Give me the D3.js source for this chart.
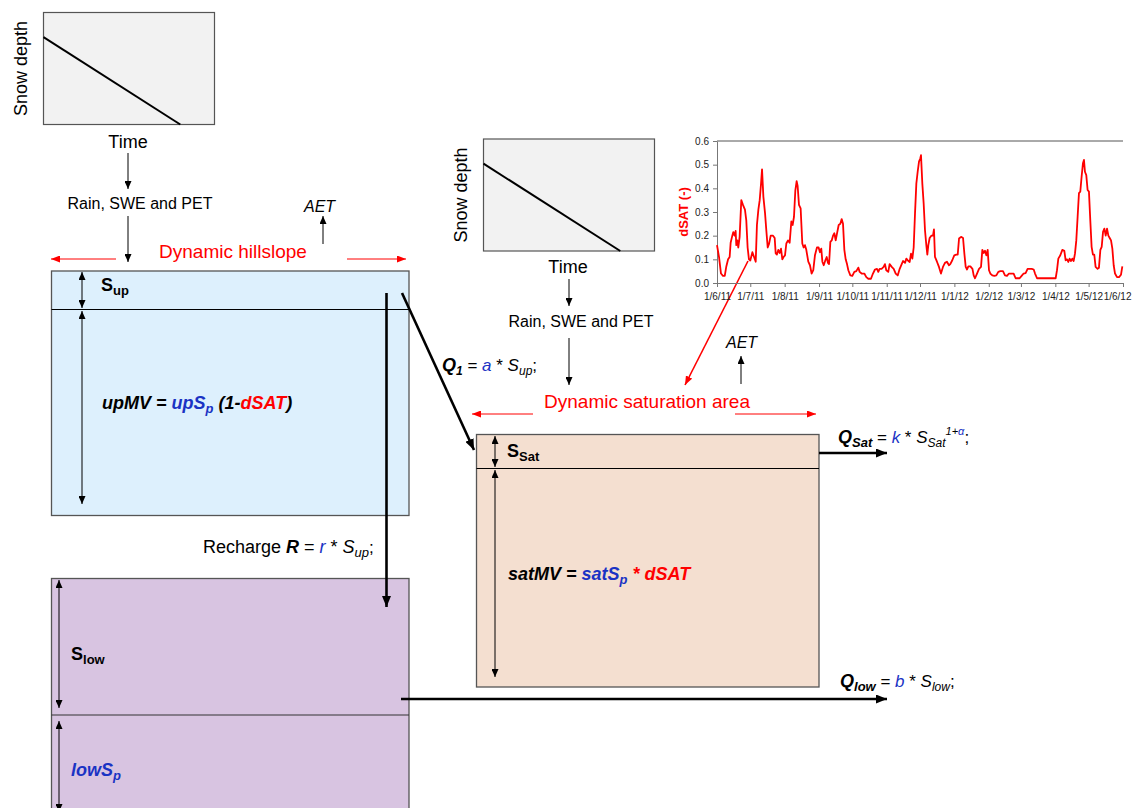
<!DOCTYPE html>
<html><head><meta charset="utf-8">
<script src="https://cdn.jsdelivr.net/npm/d3@7"></script>
<style>
html,body{margin:0;padding:0;background:#fff;}
svg text{font-family:"Liberation Sans",Arial,sans-serif;white-space:pre;}
</style></head>
<body>
<svg id="c" width="1132" height="808"></svg>
<script>
// ---- data ----
const monthTicks = ["1/6/11","1/7/11","1/8/11","1/9/11","1/10/11","1/11/11","1/12/11","1/1/12","1/2/12","1/3/12","1/4/12","1/5/12","1/6/12"];
const yTicks = [0, 0.1, 0.2, 0.3, 0.4, 0.5, 0.6];
// days since 1/6/2011
const days = [0,1.8,3.6,5.4,7,8.4,10,11.4,12.3,13.8,14.7,15.9,16.8,17.4,18.3,19.2,20.4,21.9,23.4,25.2,26.4,27.6,28.8,30,31.9,33.4,34.9,36,37.3,38.5,39.7,40.6,41.8,43.3,44.5,45.7,46.9,48.4,50.5,52,52.9,54,55.3,56.5,57.7,58.9,60,61.3,62.5,64,65.5,67,68.2,69.4,70.6,71.8,72.7,73.9,75.4,76.9,78.1,79.3,80.5,82.3,83.8,85.3,86.8,88.3,90.1,91.6,92.8,94,95,96.2,97.7,98.9,100,101,102.2,103.4,104.6,105.8,107,108.2,109.7,111.2,112.4,113.6,114.8,116,117.2,118.4,120.2,122,123.8,125.6,127.4,128.6,130.4,132.8,134.6,136.4,138.8,140.6,142.4,144.2,145.4,146.6,148.4,150.2,151.4,152.6,154.4,155.6,157.5,159.3,161.1,162.9,164.7,166.5,167.7,169.5,170.7,172.5,173.7,174.9,176.1,177.3,178.5,179.7,180.9,182.1,183.3,183.9,185.1,186.3,187.5,188.7,189.6,190.5,191.7,193.2,194.7,195.6,196.5,198.3,200.1,201.9,203.7,205.5,207.3,209.1,210.3,212.1,213.9,215.7,217,218.2,220,221.8,223,224.2,225.4,226.6,228.4,230.3,231.4,232.6,234.4,236.2,238,239.2,240.4,241.6,242.8,244,245.2,246.4,248.2,250,251.8,253.6,255.4,257.8,259.6,261.4,263.2,265.6,267.4,269.2,272.8,274.6,276.4,278.2,280,283.7,285.5,286.7,288.5,305.3,306.5,307.7,309.5,311.3,313.1,314.3,315.5,316.7,317.9,319.1,320.3,321.5,322.7,323.9,325.1,326.3,327.5,328.7,329.9,330.8,331.7,332.9,334.1,335.3,336.5,337.7,338.9,340.1,341.3,343.1,344.3,345.6,346.8,348,349.2,350.4,351.6,352.8,354,355.2,356.4,357.6,358.8,360.6,362.4,364.2,365.4];
const dsat = [0.16,0.11,0.04,0.03,0.03,0.07,0.10,0.11,0.17,0.20,0.215,0.20,0.22,0.16,0.18,0.15,0.195,0.35,0.33,0.31,0.265,0.15,0.10,0.095,0.13,0.11,0.09,0.245,0.31,0.35,0.42,0.48,0.365,0.295,0.22,0.15,0.165,0.20,0.20,0.19,0.125,0.12,0.14,0.127,0.145,0.10,0.11,0.117,0.167,0.18,0.17,0.26,0.245,0.28,0.39,0.43,0.41,0.33,0.315,0.167,0.15,0.16,0.14,0.09,0.075,0.04,0.054,0.117,0.15,0.15,0.13,0.145,0.09,0.075,0.096,0.11,0.085,0.08,0.174,0.18,0.20,0.21,0.18,0.21,0.245,0.25,0.27,0.25,0.14,0.10,0.08,0.054,0.032,0.03,0.047,0.05,0.065,0.047,0.04,0.04,0.025,0.018,0.018,0.04,0.057,0.06,0.047,0.06,0.06,0.068,0.08,0.054,0.047,0.08,0.068,0.06,0.04,0.032,0.06,0.08,0.093,0.085,0.103,0.093,0.089,0.124,0.103,0.15,0.294,0.42,0.47,0.513,0.527,0.54,0.42,0.336,0.223,0.16,0.12,0.16,0.19,0.20,0.20,0.226,0.11,0.09,0.068,0.04,0.068,0.085,0.09,0.075,0.08,0.096,0.117,0.12,0.12,0.188,0.195,0.19,0.124,0.068,0.057,0.07,0.07,0.06,0.032,0.02,0.04,0.06,0.068,0.14,0.127,0.136,0.117,0.14,0.054,0.04,0.032,0.03,0.032,0.047,0.05,0.05,0.032,0.03,0.04,0.04,0.04,0.02,0.02,0.03,0.04,0.042,0.06,0.06,0.057,0.04,0.02,0.02,0.054,0.103,0.117,0.14,0.136,0.096,0.10,0.089,0.103,0.093,0.103,0.093,0.124,0.18,0.28,0.38,0.386,0.45,0.506,0.52,0.47,0.456,0.393,0.386,0.266,0.153,0.12,0.12,0.068,0.06,0.064,0.14,0.153,0.216,0.23,0.20,0.23,0.20,0.19,0.18,0.145,0.075,0.04,0.025,0.025,0.035,0.07];
// schematic snow-depth lines
const snowTime = [0, 0.8];
const snowDepth = [0.78, 0];

const BLUE = "#1a33c4", RED = "#ff0000";
const svg = d3.select("#c");

// ---- markers ----
const defs = svg.append("defs");
function marker(id, len, wid, color) {
  defs.append("marker").attr("id", id).attr("viewBox", `0 0 ${len} ${wid}`)
    .attr("refX", len).attr("refY", wid/2).attr("markerWidth", len).attr("markerHeight", wid)
    .attr("markerUnits", "userSpaceOnUse").attr("orient", "auto-start-reverse")
    .append("path").attr("d", `M0,0L${len},${wid/2}L0,${wid}Z`).attr("fill", color);
}
marker("ab", 8, 7, "#000");
marker("abT", 11, 9, "#000");
marker("ar", 9, 7, RED);

function arrow(x1, y1, x2, y2, opt = {}) {
  const l = svg.append("line").attr("x1", x1).attr("y1", y1).attr("x2", x2).attr("y2", y2)
    .attr("stroke", opt.color || "#000").attr("stroke-width", opt.w || 1)
    .attr("marker-end", `url(#${opt.m || "ab"})`);
  if (opt.both) l.attr("marker-start", `url(#${opt.m || "ab"})`);
  return l;
}

function rich(x, y, segs, anchor) {
  const t = svg.append("text").attr("x", x).attr("y", y).attr("text-anchor", anchor || "start");
  let cur = 0;
  segs.forEach(s => {
    const off = s.sub ? 4 : (s.sup ? -8 : 0);
    const ts = t.append("tspan").text(s.t).attr("dy", off - cur);
    cur = off;
    ts.attr("font-size", s.size || ((s.sub || s.sup) ? 12 : 17))
      .attr("fill", s.c || "#000")
      .attr("font-weight", s.b ? "bold" : "normal")
      .attr("font-style", s.i ? "italic" : "normal");
  });
  return t;
}

// ---- snow charts ----
function snowChart(x0, y0, w, h, timeY) {
  const sx = d3.scaleLinear().domain([0, 1]).range([x0, x0 + w]);
  const sy = d3.scaleLinear().domain([0, 1]).range([y0 + h, y0]);
  svg.append("rect").attr("x", x0).attr("y", y0).attr("width", w).attr("height", h)
    .attr("fill", "#f2f2f2").attr("stroke", "#555").attr("stroke-width", 1.2);
  svg.append("path").attr("d", d3.line().x((d, i) => sx(snowTime[i])).y(d => sy(d))(snowDepth))
    .attr("stroke", "#000").attr("stroke-width", 2).attr("fill", "none");
  svg.append("text").attr("transform", `translate(${x0 - 23},${y0 + h / 2}) rotate(-90)`)
    .attr("text-anchor", "middle").attr("dominant-baseline", "central")
    .attr("font-size", 18).text("Snow depth");
  svg.append("text").attr("x", x0 + w / 2 - 1 ).attr("y", timeY).attr("text-anchor", "middle")
    .attr("font-size", 18).text("Time");
}
snowChart(43.5, 12.5, 171, 112, 148);
snowChart(483.5, 139, 171, 112, 273);

// ---- boxes ----
svg.append("rect").attr("x", 51.5).attr("y", 271).attr("width", 357.5).attr("height", 244.5)
  .attr("fill", "#ddf0fd").attr("stroke", "#555").attr("stroke-width", 1.3);
svg.append("line").attr("x1", 51.5).attr("x2", 409).attr("y1", 309.5).attr("y2", 309.5).attr("stroke", "#000");
svg.append("rect").attr("x", 51.5).attr("y", 578.5).attr("width", 357.5).attr("height", 260)
  .attr("fill", "#d8c4e1").attr("stroke", "#555").attr("stroke-width", 1.3);
svg.append("line").attr("x1", 51.5).attr("x2", 409).attr("y1", 715).attr("y2", 715).attr("stroke", "#333");
svg.append("rect").attr("x", 476.5).attr("y", 434.5).attr("width", 342.5).attr("height", 252.5)
  .attr("fill", "#f4dfd0").attr("stroke", "#555").attr("stroke-width", 1.3);
svg.append("line").attr("x1", 476.5).attr("x2", 819).attr("y1", 468.5).attr("y2", 468.5).attr("stroke", "#000");

// ---- thin arrows ----
arrow(128, 153, 128, 189);
arrow(128, 216, 128, 262);
arrow(323, 244, 323, 216);
arrow(569, 279, 569, 306);
arrow(569, 338, 569, 385);
arrow(741, 384, 741, 356);
arrow(82, 272, 82, 308, {both: true});
arrow(82, 311, 82, 504, {both: true});
arrow(59, 580, 59, 708, {both: true});
arrow(59, 721, 59, 812, {both: true});
arrow(495, 436, 495, 467, {both: true});
arrow(495, 470, 495, 677, {both: true});
// red arrows
arrow(116, 259, 51, 259, {color: RED, m: "ar"});
arrow(347, 259, 406, 259, {color: RED, m: "ar"});
arrow(533, 414, 472, 414, {color: RED, m: "ar"});
arrow(735, 414, 816, 414, {color: RED, m: "ar"});
arrow(748, 261, 685, 385, {color: RED, m: "ar", w: 1.6});
// thick arrows
arrow(386.5, 293, 386.5, 607, {w: 2.6, m: "abT"});
arrow(402, 293, 474, 450, {w: 2.6, m: "abT"});
arrow(819, 453, 887, 453, {w: 2.6, m: "abT"});
arrow(401, 699, 887, 699, {w: 2.6, m: "abT"});

// ---- texts ----
svg.append("text").attr("x", 140).attr("y", 209).attr("text-anchor", "middle").attr("font-size", 16).text("Rain, SWE and PET");
svg.append("text").attr("x", 581).attr("y", 327).attr("text-anchor", "middle").attr("font-size", 16).text("Rain, SWE and PET");
svg.append("text").attr("x", 304).attr("y", 212).attr("font-size", 16).attr("font-style", "italic").text("AET");
svg.append("text").attr("x", 726).attr("y", 348).attr("font-size", 16).attr("font-style", "italic").text("AET");
svg.append("text").attr("x", 233).attr("y", 258).attr("text-anchor", "middle").attr("font-size", 19).attr("fill", RED).text("Dynamic hillslope");
svg.append("text").attr("x", 647).attr("y", 408).attr("text-anchor", "middle").attr("font-size", 19).attr("fill", RED).text("Dynamic saturation area");

rich(101, 291, [{t: "S", b: 1, size: 18}, {t: "up", b: 1, sub: 1, size: 13}]);
rich(71, 660, [{t: "S", b: 1, size: 18}, {t: "low", b: 1, sub: 1, size: 13}]);
rich(507, 457, [{t: "S", b: 1, size: 18}, {t: "Sat", b: 1, sub: 1, size: 13}]);

rich(102, 409, [
  {t: "upMV = ", b: 1, i: 1, size: 18},
  {t: "upS", b: 1, i: 1, size: 18, c: BLUE},
  {t: "p", b: 1, i: 1, sub: 1, size: 13, c: BLUE},
  {t: " (1-", b: 1, i: 1, size: 18},
  {t: "dSAT", b: 1, i: 1, size: 18, c: RED},
  {t: ")", b: 1, i: 1, size: 18}
]);
rich(71, 776, [
  {t: "lowS", b: 1, i: 1, size: 18, c: BLUE},
  {t: "p", b: 1, i: 1, sub: 1, size: 13, c: BLUE}
]);
rich(508, 580, [
  {t: "satMV = ", b: 1, i: 1, size: 18},
  {t: "satS", b: 1, i: 1, size: 18, c: BLUE},
  {t: "p", b: 1, i: 1, sub: 1, size: 13, c: BLUE},
  {t: " * dSAT", b: 1, i: 1, size: 18, c: RED}
]);
rich(442, 371, [
  {t: "Q", b: 1, i: 1, size: 18},
  {t: "1", b: 1, i: 1, sub: 1, size: 12},
  {t: " = "},
  {t: "a", c: BLUE, i: 1},
  {t: " * "},
  {t: "S", i: 1},
  {t: "up", i: 1, sub: 1},
  {t: ";"}
]);
rich(203, 553, [
  {t: "Recharge ", size: 18},
  {t: "R", b: 1, i: 1, size: 18},
  {t: " = ", size: 18},
  {t: "r", c: BLUE, i: 1, size: 18},
  {t: " * ", size: 18},
  {t: "S", i: 1, size: 18},
  {t: "up", i: 1, sub: 1, size: 13},
  {t: ";", size: 17}
]);
rich(838, 443, [
  {t: "Q", b: 1, i: 1, size: 18},
  {t: "Sat", b: 1, i: 1, sub: 1, size: 13},
  {t: " = "},
  {t: "k", c: BLUE, i: 1},
  {t: " * "},
  {t: "S", i: 1},
  {t: "Sat", i: 1, sub: 1},
  {t: "1+", i: 1, sup: 1, size: 11},
  {t: "α", i: 1, sup: 1, size: 11, c: BLUE},
  {t: ";"}
]);
rich(840, 687, [
  {t: "Q", b: 1, i: 1, size: 18},
  {t: "low", b: 1, i: 1, sub: 1, size: 13},
  {t: " = "},
  {t: "b", c: BLUE, i: 1},
  {t: " * "},
  {t: "S", i: 1},
  {t: "low", i: 1, sub: 1},
  {t: ";"}
]);

// ---- dSAT chart ----
const t0 = new Date(2011, 5, 1), t1 = new Date(2012, 5, 1);
const x = d3.scaleTime().domain([t0, t1]).range([717, 1123]);
const y = d3.scaleLinear().domain([0, 0.6]).range([283, 141]);
const g = svg.append("g");
g.append("line").attr("x1", 717).attr("x2", 1123).attr("y1", 141).attr("y2", 141).attr("stroke", "#555").attr("stroke-width", 1);
const monthDates = d3.timeMonth.range(t0, d3.timeDay.offset(t1, 1));
const xa = g.append("g").attr("transform", "translate(0,283)")
  .call(d3.axisBottom(x).tickValues(monthDates).tickSize(4).tickSizeOuter(0)
    .tickFormat((d, i) => monthTicks[i]));
const ya = g.append("g").attr("transform", "translate(717,0)")
  .call(d3.axisLeft(y).tickValues(yTicks).tickSize(4).tickSizeOuter(0).tickFormat(d3.format(".1f")));
[xa, ya].forEach(a => {
  a.selectAll("path,line").attr("stroke", "#777");
  a.selectAll("text").attr("fill", "#222").attr("font-size", 10)
    .attr("font-family", '"Liberation Sans",Arial,sans-serif');
});
xa.selectAll("text").attr("dy", "0.95em");
xa.selectAll(".tick:last-of-type text").attr("text-anchor", "end").attr("x", 8);
ya.selectAll("text").attr("dx", "-1");
g.append("path")
  .attr("d", d3.line().x((d, i) => x(new Date(t0.getTime() + days[i] * 864e5))).y(d => y(d))(dsat))
  .attr("fill", "none").attr("stroke", RED).attr("stroke-width", 1.8).attr("stroke-linejoin", "round");
g.append("text").attr("transform", "translate(688,212) rotate(-90)").attr("text-anchor", "middle")
  .attr("font-size", 13).attr("font-weight", "bold").attr("fill", RED).text("dSAT (-)");
</script>
</body></html>
